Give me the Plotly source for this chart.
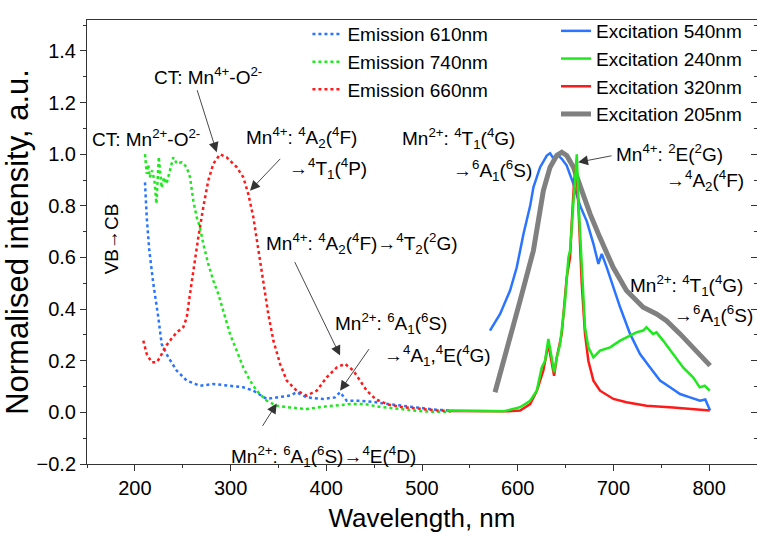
import plotly.graph_objects as go

# ---------------- data ----------------
em610_x = [210.6, 212.4, 215.1, 219.3, 224.5, 228.0, 235.0, 243.7, 254.2, 268.1, 282.0, 299.4, 313.3,
           323.8, 337.8, 348.2, 362.1, 369.1, 379.6, 396.9, 409.1, 414.4, 421.4, 435, 450, 465, 480, 500, 515, 530]
em610_y = [0.891, 0.756, 0.627, 0.498, 0.368, 0.265, 0.213, 0.162, 0.123, 0.103, 0.110, 0.103, 0.097,
           0.084, 0.052, 0.058, 0.065, 0.078, 0.058, 0.052, 0.058, 0.078, 0.045, 0.045, 0.040, 0.032, 0.025, 0.015, 0.010, 0.008]

em740_x = [210.6, 212.4, 214.0, 215.6, 218.0, 220.5, 222.5, 225.0, 228.0, 230.5, 233.0, 236.0, 240.2, 244.0,
           248.9, 254.2, 257.6, 261.1, 264.6, 268.0, 271.5, 276.7, 282.0, 287.2, 292.4, 299.4, 306.4, 313.3,
           320.3, 327.3, 337.8, 348.2, 362.0, 379.6, 397.0, 410.9, 424.8, 440, 455, 470, 485, 500, 515, 530]
em740_y = [1.000, 0.924, 0.960, 0.910, 0.937, 0.898, 0.808, 0.990, 0.870, 0.910, 0.885, 0.930, 0.988, 0.963,
           0.969, 0.950, 0.911, 0.820, 0.756, 0.717, 0.653, 0.575, 0.510, 0.459, 0.394, 0.304, 0.239, 0.174,
           0.123, 0.084, 0.045, 0.026, 0.019, 0.013, 0.022, 0.026, 0.032, 0.032, 0.022, 0.016, 0.010, 0.004, 0.002, 0.002]

em660_x = [208.8, 212.4, 217.6, 222.8, 226.3, 231.5, 236.7, 243.7, 250.6, 254.2, 257.6, 261.1, 266.3, 271.5,
           276.7, 282.0, 289.0, 295.9, 306.4, 313.3, 318.5, 323.8, 329.0, 334.2, 339.4, 344.7, 351.7, 358.7,
           369.1, 379.6, 390.0, 400.5, 410.9, 419.6, 428.3, 435.3, 442.3, 452, 465, 480, 500, 515, 530]
em660_y = [0.278, 0.226, 0.194, 0.194, 0.213, 0.252, 0.278, 0.310, 0.330, 0.368, 0.459, 0.549, 0.678, 0.795,
           0.898, 0.963, 1.000, 0.988, 0.950, 0.911, 0.846, 0.756, 0.627, 0.498, 0.381, 0.278, 0.188, 0.123,
           0.084, 0.065, 0.084, 0.136, 0.174, 0.188, 0.162, 0.123, 0.084, 0.050, 0.030, 0.020, 0.012, 0.008, 0.005]

ex540_x = [571.0, 581.6, 592.0, 599.0, 606.0, 613.0, 616.4, 623.4, 630.4, 633.8, 637.0, 640.8, 646.0, 651.2,
           658.2, 665.2, 672.2, 679.1, 684.3, 687.8, 693.0, 700.0, 707.0, 717.4, 727.8, 738.3, 748.7, 759.2,
           769.6, 780.0, 790.5, 796.0, 799.2, 801.0]
ex540_y = [0.317, 0.381, 0.472, 0.562, 0.691, 0.800, 0.872, 0.950, 0.995, 1.004, 0.985, 1.000, 0.982, 0.956,
           0.885, 0.800, 0.740, 0.653, 0.575, 0.614, 0.562, 0.484, 0.407, 0.304, 0.226, 0.174, 0.123, 0.097,
           0.071, 0.058, 0.045, 0.050, 0.026, 0.007]

ex240_x = [525.7, 545, 565, 585.0, 602.5, 613.0, 619.9, 625.1, 628.6, 632.0, 635.5, 638.0, 640.8, 644.3,
           649.5, 653.0, 654.7, 656.4, 658.2, 660.5, 661.7, 663.4, 666.9, 670.3, 673.8, 679.1, 686.0,
           696.5, 707.0, 717.4, 724.0, 731.0, 734.5, 741.4, 745.0, 751.9, 762.3, 772.8, 783.2, 790.2, 795.4, 800.6]
ex240_y = [0.007, 0.006, 0.005, 0.004, 0.020, 0.045, 0.084, 0.174, 0.200, 0.284, 0.213, 0.155, 0.213, 0.265,
           0.433, 0.601, 0.627, 0.717, 0.820, 0.950, 1.000, 0.820, 0.562, 0.330, 0.252, 0.213, 0.239,
           0.252, 0.278, 0.297, 0.310, 0.317, 0.330, 0.304, 0.310, 0.278, 0.226, 0.174, 0.136, 0.097, 0.103, 0.084]

ex320_x = [530, 550, 570, 590, 602.5, 613.0, 620.0, 626.8, 632.0, 635.5, 638.0, 640.8, 646.0, 651.2,
           654.7, 656.4, 659.0, 661.0, 663.4, 666.9, 670.3, 673.8, 679.1, 686.0, 700.0, 713.6, 734.5,
           762.3, 783.2, 800.6]
ex320_y = [0.005, 0.004, 0.004, 0.004, 0.007, 0.032, 0.084, 0.162, 0.265, 0.200, 0.142, 0.213, 0.304, 0.523,
           0.600, 0.730, 0.900, 0.960, 0.800, 0.498, 0.304, 0.200, 0.123, 0.084, 0.052, 0.039, 0.026,
           0.019, 0.013, 0.007]

ex205_x = [576.3, 588.6, 602.5, 616.4, 621.6, 626.8, 633.8, 640.8, 646.0, 651.2, 658.2, 665.2, 672.2, 675.6,
           685.8, 699.7, 713.6, 731.0, 745.0, 755.4, 769.6, 783.5, 801.0]
ex205_y = [0.078, 0.239, 0.433, 0.627, 0.750, 0.859, 0.950, 0.995, 1.008, 0.995, 0.950, 0.872, 0.800, 0.769,
           0.678, 0.562, 0.472, 0.407, 0.381, 0.355, 0.304, 0.252, 0.181]

BLUE = "#2b74ff"
GREEN = "#1fe81f"
RED = "#ff1a1a"
GRAY = "#808080"
FONT = "Arial, Liberation Sans, sans-serif"

fig = go.Figure()

# emission (dotted) -> legend 1
for xs, ys, c, name in [(em610_x, em610_y, BLUE, "Emission 610nm"),
                        (em740_x, em740_y, GREEN, "Emission 740nm"),
                        (em660_x, em660_y, RED, "Emission 660nm")]:
    fig.add_trace(go.Scatter(x=xs, y=ys, mode="lines", name=name, legend="legend",
                             line=dict(color=c, width=2.5, dash="dot")))

# excitation (solid) -> legend 2 (draw order: blue, gray, red, green)
fig.add_trace(go.Scatter(x=ex540_x, y=ex540_y, mode="lines", name="Excitation 540nm", legend="legend2",
                         legendrank=1, line=dict(color=BLUE, width=2.5)))
fig.add_trace(go.Scatter(x=ex205_x, y=ex205_y, mode="lines", name="Excitation 205nm", legend="legend2",
                         legendrank=4, line=dict(color=GRAY, width=5)))
fig.add_trace(go.Scatter(x=ex320_x, y=ex320_y, mode="lines", name="Excitation 320nm", legend="legend2",
                         legendrank=3, line=dict(color=RED, width=2.5)))
fig.add_trace(go.Scatter(x=ex240_x, y=ex240_y, mode="lines", name="Excitation 240nm", legend="legend2",
                         legendrank=2, line=dict(color=GREEN, width=2.5)))

# dummy trace for right-side inward ticks
fig.add_trace(go.Scatter(x=[None], y=[None], yaxis="y2", showlegend=False, hoverinfo="skip"))

# ---------------- annotations ----------------
texts = [
    ("CT: Mn<sup>4+</sup>-O<sup>2-</sup>", 276.4, 1.305),
    ("CT: Mn<sup>2+</sup>-O<sup>2-</sup>", 211.7, 1.061),
    ("Mn<sup>4+</sup>: <sup>4</sup>A<sub>2</sub>(<sup>4</sup>F)", 373.6, 1.066),
    ("→<sup>4</sup>T<sub>1</sub>(<sup>4</sup>P)", 401.8, 0.945),
    ("Mn<sup>4+</sup>: <sup>4</sup>A<sub>2</sub>(<sup>4</sup>F)→<sup>4</sup>T<sub>2</sub>(<sup>2</sup>G)", 437.4, 0.654),
    ("Mn<sup>2+</sup>: <sup>6</sup>A<sub>1</sub>(<sup>6</sup>S)", 467.7, 0.344),
    ("→<sup>4</sup>A<sub>1</sub>,<sup>4</sup>E(<sup>4</sup>G)", 515.7, 0.220),
    ("Mn<sup>2+</sup>: <sup>6</sup>A<sub>1</sub>(<sup>6</sup>S)→<sup>4</sup>E(<sup>4</sup>D)", 396.6, -0.169),
    ("Mn<sup>2+</sup>: <sup>4</sup>T<sub>1</sub>(<sup>4</sup>G)", 537.7, 1.061),
    ("→<sup>6</sup>A<sub>1</sub>(<sup>6</sup>S)", 573.2, 0.937),
    ("Mn<sup>4+</sup>: <sup>2</sup>E(<sup>2</sup>G)", 758.2, 1.003),
    ("→<sup>4</sup>A<sub>2</sub>(<sup>4</sup>F)", 795.8, 0.898),
    ("Mn<sup>2+</sup>: <sup>4</sup>T<sub>1</sub>(<sup>4</sup>G)", 775.9, 0.491),
    ("→<sup>6</sup>A<sub>1</sub>(<sup>6</sup>S)", 804.1, 0.375),
]
for t, x, y in texts:
    fig.add_annotation(x=x, y=y, text=t, showarrow=False, xanchor="center", yanchor="middle",
                       font=dict(family=FONT, size=19, color="black"))

fig.add_annotation(x=175.8, y=0.673, text="VB→CB", textangle=-90, showarrow=False,
                   font=dict(family=FONT, size=19, color="black"))

arrows = [  # (tail x, tail y, head x, head y)
    (264.6, 1.254, 285.5, 1.008),
    (353.4, 0.988, 320.3, 0.859),
    (366.3, 0.588, 414.4, 0.220),
    (445.7, 0.251, 414.4, 0.084),
    (332.5, -0.058, 348.2, 0.034),
    (699.6, 0.995, 663.1, 0.969),
]
for ax, ay, x, y in arrows:
    fig.add_annotation(x=x, y=y, ax=ax, ay=ay, axref="x", ayref="y", text="", showarrow=True,
                       arrowhead=2, arrowsize=2.2, arrowwidth=0.9, arrowcolor="#333333", standoff=0)

tickfont = dict(family=FONT, size=20, color="black")
fig.update_layout(
    width=757, height=534,
    margin=dict(l=87, r=0, t=20, b=70),
    paper_bgcolor="white", plot_bgcolor="white",
    font=dict(family=FONT, color="black"),
    xaxis=dict(range=[150, 850], tick0=0, dtick=100, ticks="outside", ticklen=6, tickwidth=1,
               tickcolor="#333", showline=True, linecolor="#333", linewidth=1, mirror=True,
               showgrid=False, zeroline=False, tickfont=tickfont,
               minor=dict(dtick=50, ticks="outside", ticklen=3, tickcolor="#333"),
               title=dict(text="Wavelength, nm", font=dict(family=FONT, size=26, color="black"), standoff=10)),
    yaxis=dict(range=[-0.2, 1.52], tick0=0, dtick=0.2, tickformat=".1f", ticks="outside", ticklen=6,
               tickwidth=1, tickcolor="#333", showline=True, linecolor="#333", linewidth=1,
               showgrid=False, zeroline=False, tickfont=tickfont,
               minor=dict(dtick=0.1, ticks="outside", ticklen=3, tickcolor="#333"),
               title=dict(text="Normalised intensity, a.u.", font=dict(family=FONT, size=31, color="black"),
                          standoff=3)),
    yaxis2=dict(range=[-0.2, 1.52], overlaying="y", side="right", anchor="x", tick0=0, dtick=0.2,
                ticks="inside", ticklen=6, tickcolor="#333", showticklabels=False, showgrid=False,
                zeroline=False, showline=False,
                minor=dict(dtick=0.1, ticks="inside", ticklen=3, tickcolor="#333")),
    legend=dict(x=0.329, y=1.011, xanchor="left", yanchor="top", bgcolor="rgba(0,0,0,0)",
                font=dict(family=FONT, size=19, color="black"), tracegroupgap=0),
    legend2=dict(x=0.700, y=1.018, xanchor="left", yanchor="top", bgcolor="rgba(0,0,0,0)",
                 font=dict(family=FONT, size=19, color="black"), traceorder="normal"),
    showlegend=True,
)

fig.write_html("out.html")
